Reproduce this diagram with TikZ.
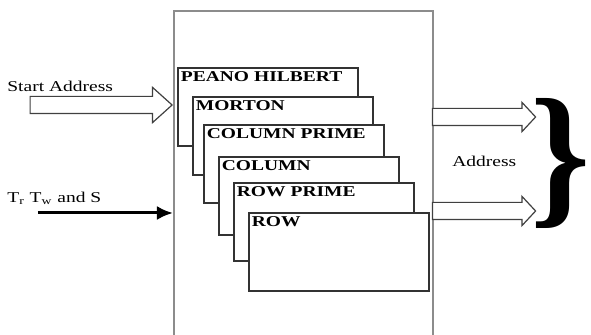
\documentclass[tikz,border=0pt]{standalone}
\usepackage{fontspec}
\setmainfont{Liberation Serif}[FakeStretch=1.3]
\usetikzlibrary{shapes.arrows,arrows.meta}
\begin{document}
\begin{tikzpicture}[x=0.5pt,y=-0.5pt,font=\fontsize{7.5}{9}\selectfont,
    order/.style={draw=black!80, line width=0.9pt, fill=white, anchor=north west,
      text width=87pt, align=left, inner xsep=1.5pt, inner ysep=0pt,
      text height=7pt, text depth=32pt, font=\fontsize{7.5}{9}\selectfont\bfseries},
    blockarr/.style={single arrow, draw=black!75, line width=0.6pt, fill=white, inner sep=4pt},
    lbl/.style={anchor=base west, inner sep=0pt}]
  \clip (0,0) rectangle (591,335);
  % Controller
  \node[draw=black!45, line width=1pt, anchor=north west, minimum width=129.5pt,
    minimum height=180pt] (ctrl) at (173,10) {};
  % Scan orders
  \node[order] (peano) at (177,67) {PEANO HILBERT};
  \node[order] (morton) at (192,96) {MORTON};
  \node[order] (colprime) at (203,124) {COLUMN PRIME};
  \node[order] (column) at (218,156) {COLUMN};
  \node[order] (rowprime) at (233,182) {ROW PRIME};
  \node[order] (row) at (248,212) {ROW};
  % Inputs
  \node[lbl] (startlbl) at (7,92) {Start Address};
  \node[blockarr, anchor=tip, minimum height=71pt, minimum width=17pt,
    single arrow head extend=4.5pt, single arrow tip angle=84] (startarr) at (173,105) {};
  \node[lbl] (tlbl) at (7,203) {T\textsubscript{r} T\textsubscript{w} and S};
  \coordinate (tstart) at (38,213);
  \draw[line width=1.5pt, -{Latex[length=8pt,width=7pt]}] (tstart) -- (ctrl.west |- tstart);
  % Outputs
  \node[blockarr, anchor=tail, minimum height=51.5pt, minimum width=14pt,
    single arrow head extend=3pt, single arrow tip angle=94] (outone) at (432,117) {};
  \node[blockarr, anchor=tail, minimum height=51.5pt, minimum width=14pt,
    single arrow head extend=3pt, single arrow tip angle=94] (outtwo) at (432,211) {};
  \node[lbl] (addrlbl) at (452,167) {Address};
  \node[inner sep=0pt] (addrbrace) at (561,163) {\resizebox*{30pt}{65pt}{\bfseries\}}};
\end{tikzpicture}
\end{document}
